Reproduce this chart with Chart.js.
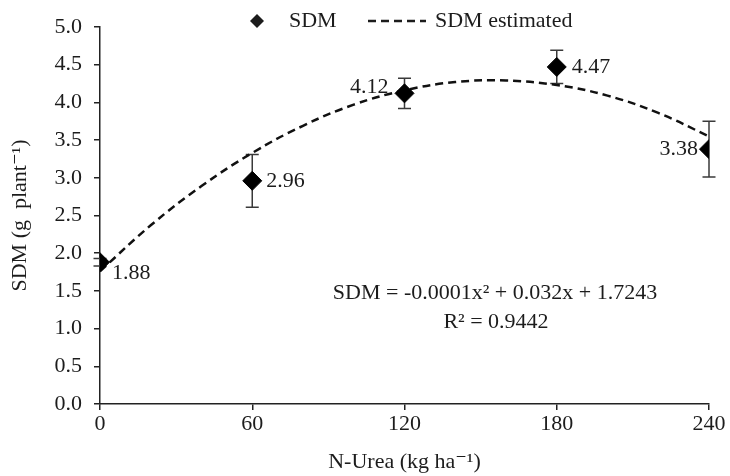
<!DOCTYPE html>
<html>
<head>
<meta charset="utf-8">
<script src="https://cdn.jsdelivr.net/npm/chart.js@4/dist/chart.umd.min.js"></script>
<style>
  html, body { margin: 0; padding: 0; background: #fff; }
  #wrap { width: 730px; height: 476px; }
</style>
</head>
<body>
<div id="wrap"><canvas id="sdmChart"></canvas></div>
<script>
// N dose (kg ha-1) and measured shoot dry mass (g plant-1)
const doses = [0, 60, 120, 180, 240];
const sdm = [1.88, 2.96, 4.12, 4.47, 3.38];
const sdmErr = [0.05, 0.35, 0.20, 0.22, 0.37];

// estimated curve
const estDoses = [0, 20, 40, 60, 80, 100, 120, 140, 160, 180, 200, 220, 240];
const estSdm = [1.76, 2.37, 2.89, 3.33, 3.69, 3.97, 4.16, 4.27, 4.29, 4.23, 4.09, 3.86, 3.55];

const xTicks = [0, 60, 120, 180, 240];

const serif = '"Liberation Serif", "DejaVu Serif", serif';
const ink = '#1c1c1c';

// where each value label sits relative to its point: [dx, dy, align]
const labelPlace = [[12, 11, 'left'], [14, 0, 'left'], [-16, -6, 'right'], [15, 0, 'left'], [-11, 0, 'right']];

const errorBars = {
    id: 'errorBars',
    beforeDatasetsDraw(chart) {
        const { ctx, scales: { x, y } } = chart;
        ctx.save();
        ctx.strokeStyle = '#3a3a3a';
        ctx.lineWidth = 1.5;
        doses.forEach((d, i) => {
            const px = x.getPixelForValue(d);
            const top = y.getPixelForValue(sdm[i] + sdmErr[i]);
            const bot = y.getPixelForValue(sdm[i] - sdmErr[i]);
            ctx.beginPath();
            ctx.moveTo(px, top); ctx.lineTo(px, bot);
            ctx.moveTo(px - 6.5, top); ctx.lineTo(px + 6.5, top);
            ctx.moveTo(px - 6.5, bot); ctx.lineTo(px + 6.5, bot);
            ctx.stroke();
        });
        ctx.restore();
    }
};

const annotations = {
    id: 'annotations',
    afterDraw(chart) {
        const { ctx, scales: { x, y } } = chart;
        ctx.save();
        ctx.fillStyle = ink;
        ctx.font = '22px ' + serif;
        ctx.textBaseline = 'middle';

        // value labels
        doses.forEach((d, i) => {
            const px = x.getPixelForValue(d);
            const py = y.getPixelForValue(sdm[i]);
            const [dx, dy, align] = labelPlace[i];
            ctx.textAlign = align;
            ctx.fillText(sdm[i].toFixed(2), px + dx, py + dy);
        });

        // regression equation
        ctx.textAlign = 'center';
        ctx.fillText('SDM = -0.0001x² + 0.032x + 1.7243', 495, 293);
        ctx.fillText('R² = 0.9442', 496, 322);

        // legend
        const ly = 21;
        ctx.beginPath();
        ctx.moveTo(257, ly - 7); ctx.lineTo(264, ly); ctx.lineTo(257, ly + 7); ctx.lineTo(250, ly);
        ctx.closePath();
        ctx.fill();
        ctx.textAlign = 'left';
        ctx.fillText('SDM', 289, ly);
        ctx.strokeStyle = ink;
        ctx.lineWidth = 2.5;
        ctx.setLineDash([8, 5]);
        ctx.beginPath();
        ctx.moveTo(368, ly); ctx.lineTo(426, ly);
        ctx.stroke();
        ctx.setLineDash([]);
        ctx.fillText('SDM estimated', 435, ly);
        ctx.restore();
    }
};

const ctx = document.getElementById('sdmChart').getContext('2d');
const sdmChart = new Chart(ctx, {
    type: 'scatter',
    data: {
        datasets: [{
            label: 'SDM',
            data: doses.map((d, i) => ({ x: d, y: sdm[i] })),
            pointStyle: 'rectRot',
            pointRadius: 9.5,
            pointHoverRadius: 9.5,
            backgroundColor: '#000',
            borderColor: '#000',
            borderWidth: 1
        }, {
            label: 'SDM estimated',
            type: 'line',
            data: estDoses.map((d, i) => ({ x: d, y: estSdm[i] })),
            borderColor: '#111',
            borderWidth: 2.5,
            borderDash: [8, 5],
            pointRadius: 0,
            tension: 0.4,
            fill: false
        }]
    },
    options: {
        responsive: true,
        maintainAspectRatio: false,
        animation: false,
        layout: { padding: { top: 27, right: 21, left: 0, bottom: 0 } },
        plugins: {
            legend: { display: false },
            tooltip: { enabled: false }
        },
        scales: {
            x: {
                type: 'linear',
                min: 0,
                max: 240,
                afterFit: s => { s.height = 72; },
                afterBuildTicks: s => { s.ticks = xTicks.map(v => ({ value: v })); },
                border: { color: '#222', width: 1.5 },
                grid: { drawOnChartArea: false, drawTicks: true, tickLength: 6, color: '#222', lineWidth: 1.5 },
                ticks: { color: ink, font: { family: serif, size: 22 }, padding: 1, maxRotation: 0 },
                title: {
                    display: true,
                    text: 'N-Urea (kg ha⁻¹)',
                    color: ink,
                    font: { family: serif, size: 22 },
                    padding: { top: 0, bottom: 1 }
                }
            },
            y: {
                min: 0,
                max: 5,
                afterFit: s => { s.width = 100; },
                border: { color: '#222', width: 1.5 },
                grid: { drawOnChartArea: false, drawTicks: true, tickLength: 6, color: '#222', lineWidth: 1.5 },
                ticks: {
                    stepSize: 0.5,
                    color: ink,
                    font: { family: serif, size: 22 },
                    padding: 12,
                    callback: v => v.toFixed(1)
                },
                title: {
                    display: true,
                    text: 'SDM (g  plant⁻¹)',
                    color: ink,
                    font: { family: serif, size: 22 },
                    padding: { top: 7, bottom: 0 }
                }
            }
        }
    },
    plugins: [errorBars, annotations]
});
</script>
</body>
</html>
